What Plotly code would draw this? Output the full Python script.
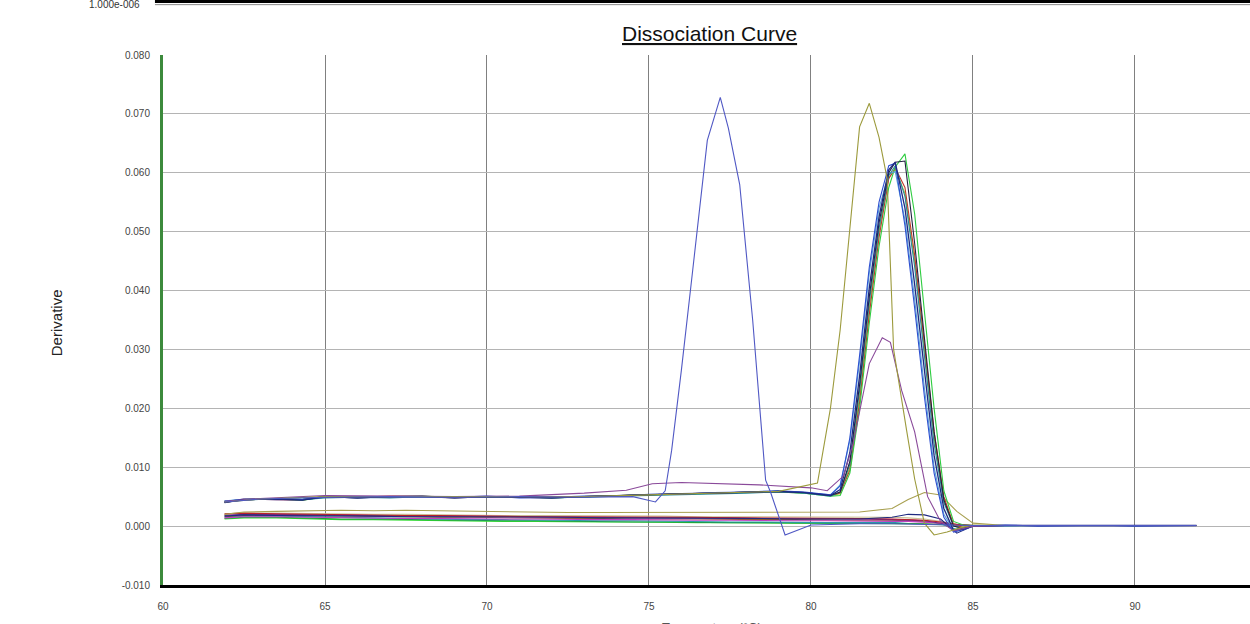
import plotly.graph_objects as go

# ---------------- data ----------------
# common temperature grid for the main product curves (upper baseline group)
T_UP = [61.9, 62.5, 63.5, 64.3, 65.0, 66.0, 67.0, 68.0, 69.0, 70.0, 71.0, 72.0, 73.0, 74.0,
        75.0, 76.0, 77.0, 78.0, 79.0, 79.8, 80.6, 80.9, 81.2, 81.5, 81.8, 82.1, 82.4, 82.6,
        82.9, 83.2, 83.5, 83.8, 84.1, 84.4, 84.7, 85.0, 86.0, 87.0, 88.0, 89.0, 90.0, 91.0, 91.9]

U_NAVY = [0.0040, 0.0045, 0.0046, 0.0044, 0.0050, 0.0048, 0.0050, 0.0051, 0.0048, 0.0050, 0.0049,
          0.0048, 0.0050, 0.0052, 0.0053, 0.0055, 0.0056, 0.0057, 0.0059, 0.0057, 0.0052,
          0.0062, 0.0125, 0.0255, 0.0405, 0.0525, 0.0605, 0.0618, 0.0540, 0.0410, 0.0260,
          0.0120, 0.0030, -0.0007, -0.0005,
          0.0000, 0.0001, 0.0001, 0.0001, 0.0001, 0.0001, 0.0001, 0.0001]
U_BLUE = [0.0042, 0.0046, 0.0045, 0.0045, 0.0049, 0.0049, 0.0049, 0.0050, 0.0049, 0.0051, 0.0048,
          0.0049, 0.0051, 0.0051, 0.0054, 0.0054, 0.0057, 0.0058, 0.0060, 0.0058, 0.0053,
          0.0068, 0.0150, 0.0290, 0.0440, 0.0550, 0.0612, 0.0616, 0.0510, 0.0370, 0.0220,
          0.0090, 0.0015, -0.0010, -0.0006,
          0.0000, 0.0002, 0.0000, 0.0001, 0.0001, 0.0000, 0.0001, 0.0001]
U_TEAL = [0.0041, 0.0044, 0.0047, 0.0045, 0.0048, 0.0049, 0.0048, 0.0050, 0.0050, 0.0049, 0.0050,
          0.0049, 0.0049, 0.0051, 0.0052, 0.0054, 0.0055, 0.0056, 0.0058, 0.0056, 0.0051,
          0.0058, 0.0105, 0.0230, 0.0380, 0.0505, 0.0595, 0.0612, 0.0560, 0.0440, 0.0290,
          0.0140, 0.0040, 0.0000, -0.0004,
          0.0001, 0.0001, 0.0001, 0.0000, 0.0001, 0.0001, 0.0001, 0.0001]
U_LBLUE = [0.0043, 0.0045, 0.0046, 0.0046, 0.0050, 0.0048, 0.0049, 0.0049, 0.0049, 0.0050, 0.0049,
           0.0048, 0.0050, 0.0052, 0.0053, 0.0055, 0.0056, 0.0058, 0.0059, 0.0057, 0.0053,
           0.0070, 0.0145, 0.0280, 0.0430, 0.0540, 0.0598, 0.0602, 0.0520, 0.0385, 0.0235,
           0.0100, 0.0020, -0.0006, -0.0004,
           0.0000, 0.0001, 0.0001, 0.0001, 0.0001, 0.0001, 0.0000, 0.0001]
U_RED = [0.0041, 0.0046, 0.0045, 0.0044, 0.0051, 0.0049, 0.0051, 0.0050, 0.0049, 0.0049, 0.0050,
         0.0049, 0.0050, 0.0051, 0.0053, 0.0055, 0.0056, 0.0057, 0.0059, 0.0057, 0.0052,
         0.0056, 0.0095, 0.0210, 0.0360, 0.0490, 0.0590, 0.0608, 0.0575, 0.0460, 0.0310,
         0.0160, 0.0050, 0.0003, -0.0003,
         0.0000, 0.0001, 0.0001, 0.0001, 0.0001, 0.0001, 0.0001, 0.0001]
U_BLACK = [0.0040, 0.0045, 0.0046, 0.0045, 0.0050, 0.0048, 0.0050, 0.0050, 0.0048, 0.0050, 0.0049,
           0.0048, 0.0050, 0.0052, 0.0053, 0.0055, 0.0056, 0.0057, 0.0059, 0.0057, 0.0052,
           0.0058, 0.0110, 0.0240, 0.0390, 0.0515, 0.0600, 0.0618, 0.0620, 0.0480, 0.0320,
           0.0160, 0.0045, 0.0000, -0.0004,
           0.0001, 0.0001, 0.0001, 0.0001, 0.0001, 0.0001, 0.0001, 0.0001]
U_GREEN = [0.0042, 0.0045, 0.0046, 0.0044, 0.0049, 0.0049, 0.0050, 0.0050, 0.0049, 0.0050, 0.0050,
           0.0048, 0.0050, 0.0051, 0.0053, 0.0054, 0.0056, 0.0058, 0.0059, 0.0056, 0.0051,
           0.0052, 0.0090, 0.0200, 0.0345, 0.0475, 0.0575, 0.0610, 0.0632, 0.0530, 0.0370,
           0.0200, 0.0060, 0.0008, 0.0002,
           0.0001, 0.0001, 0.0001, 0.0001, 0.0001, 0.0001, 0.0001, 0.0001]
U_YGREEN = [0.0041, 0.0045, 0.0046, 0.0045, 0.0050, 0.0049, 0.0050, 0.0051, 0.0049, 0.0050, 0.0049,
            0.0049, 0.0050, 0.0052, 0.0053, 0.0055, 0.0056, 0.0057, 0.0058, 0.0056, 0.0052,
            0.0055, 0.0100, 0.0220, 0.0370, 0.0500, 0.0592, 0.0605, 0.0565, 0.0450, 0.0300,
            0.0150, 0.0045, 0.0002, -0.0002,
            0.0001, 0.0001, 0.0001, 0.0001, 0.0001, 0.0001, 0.0001, 0.0001]

# primer-dimer-like early peak (blue, ~77.2 C)
T_B77 = [61.9, 63.0, 65.0, 67.0, 69.0, 71.0, 73.0, 74.5, 75.2, 75.5, 75.7, 76.0, 76.35, 76.8, 77.2,
         77.45, 77.8, 78.2, 78.45, 78.6, 78.75, 79.2, 80.0, 80.5, 81.5, 82.5, 83.5, 84.5, 85.0,
         86.0, 88.0, 90.0, 91.9]
V_B77 = [0.0041, 0.0046, 0.0049, 0.0050, 0.0049, 0.0050, 0.0049, 0.0050, 0.0041, 0.0060, 0.0129,
         0.0265, 0.0435, 0.0655, 0.0728, 0.0676, 0.0580, 0.0350, 0.0180, 0.0078, 0.0058, -0.0015,
         0.0002, 0.0003, 0.0004, 0.0004, 0.0003, 0.0001, 0.0001, 0.0001, 0.0001, 0.0001, 0.0001]

# olive curve peaking ~81.8 C
T_OLV = [61.9, 63.0, 65.0, 67.0, 69.0, 71.0, 73.0, 75.0, 77.0, 79.0, 80.2, 80.6, 80.9, 81.2, 81.5,
         81.8, 82.1, 82.35, 82.55, 82.95, 83.2, 83.5, 83.8, 84.2, 84.6, 85.0, 86.0, 88.0, 90.0, 91.9]
V_OLV = [0.0041, 0.0046, 0.0050, 0.0050, 0.0049, 0.0049, 0.0050, 0.0053, 0.0056, 0.0059, 0.0073,
         0.0200, 0.0333, 0.0500, 0.0678, 0.0718, 0.0660, 0.0590, 0.0300, 0.0163, 0.0080, 0.0005,
         -0.0015, -0.0010, -0.0003, 0.0002, 0.0001, 0.0001, 0.0001, 0.0001]

# purple curve with low peak ~82.2 C
T_PRP = [61.9, 63.0, 65.0, 67.0, 69.0, 71.0, 73.0, 74.3, 75.1, 76.0, 77.0, 78.4, 80.0, 80.5, 81.0,
         81.3, 81.8, 82.2, 82.45, 82.8, 83.2, 83.6, 84.0, 84.4, 85.0, 86.0, 88.0, 90.0, 91.9]
V_PRP = [0.0042, 0.0047, 0.0052, 0.0051, 0.0050, 0.0051, 0.0056, 0.0061, 0.0072, 0.0074, 0.0072,
         0.0070, 0.0065, 0.0060, 0.0085, 0.0140, 0.0276, 0.0320, 0.0312, 0.0230, 0.0160, 0.0050,
         0.0008, -0.0008, 0.0000, 0.0001, 0.0001, 0.0001, 0.0001]

# low baseline group (no-template style curves)
T_LOW = [61.9, 62.5, 63.5, 64.5, 65.5, 66.5, 67.5, 68.5, 69.5, 70.5, 71.5, 72.5, 73.5, 74.5, 75.5,
         76.5, 77.5, 78.5, 79.5, 80.5, 81.5, 82.5, 83.0, 83.5, 84.0, 84.5, 85.0, 86.0, 87.0, 88.0,
         89.0, 90.0, 91.0, 91.9]
L_RED = [0.0021, 0.0022, 0.0021, 0.0020, 0.0019, 0.0019, 0.0018, 0.0018, 0.0017, 0.0017, 0.0016,
         0.0016, 0.0016, 0.0015, 0.0015, 0.0015, 0.0014, 0.0014, 0.0014, 0.0013, 0.0013, 0.0012,
         0.0011, 0.0010, 0.0007, 0.0003, 0.0001,
         0.0001, 0.0001, 0.0001, 0.0001, 0.0001, 0.0001, 0.0001]
L_PURPLE = [0.0018, 0.0020, 0.0020, 0.0019, 0.0018, 0.0018, 0.0017, 0.0017, 0.0017, 0.0016, 0.0016,
            0.0015, 0.0015, 0.0015, 0.0014, 0.0014, 0.0014, 0.0013, 0.0013, 0.0012, 0.0012, 0.0011,
            0.0010, 0.0009, 0.0005, 0.0001, 0.0001,
            0.0001, 0.0001, 0.0001, 0.0002, 0.0001, 0.0001, 0.0001]
L_NAVY = [0.0017, 0.0019, 0.0018, 0.0018, 0.0017, 0.0017, 0.0016, 0.0016, 0.0016, 0.0015, 0.0015,
          0.0015, 0.0014, 0.0014, 0.0014, 0.0013, 0.0013, 0.0013, 0.0012, 0.0012, 0.0012, 0.0015,
          0.0020, 0.0019, 0.0012, -0.0012, 0.0000,
          0.0001, 0.0001, 0.0001, 0.0001, 0.0001, 0.0001, 0.0001]
L_GREEN = [0.0013, 0.0015, 0.0015, 0.0013, 0.0012, 0.0012, 0.0011, 0.0010, 0.0010, 0.0009, 0.0009,
           0.0008, 0.0008, 0.0007, 0.0007, 0.0006, 0.0006, 0.0006, 0.0005, 0.0005, 0.0005, 0.0005,
           0.0005, 0.0004, 0.0003, 0.0002, 0.0001,
           0.0001, 0.0001, 0.0001, 0.0001, 0.0001, 0.0001, 0.0001]
L_LIME = [0.0012, 0.0014, 0.0014, 0.0012, 0.0011, 0.0011, 0.0010, 0.0009, 0.0009, 0.0008, 0.0008,
          0.0007, 0.0007, 0.0007, 0.0006, 0.0006, 0.0006, 0.0005, 0.0005, 0.0005, 0.0004, 0.0004,
          0.0004, 0.0003, 0.0002, 0.0002, 0.0001,
          0.0001, 0.0001, 0.0001, 0.0001, 0.0001, 0.0001, 0.0001]
L_TEAL = [0.0015, 0.0017, 0.0017, 0.0016, 0.0014, 0.0013, 0.0012, 0.0012, 0.0011, 0.0011, 0.0010,
          0.0010, 0.0009, 0.0009, 0.0008, 0.0008, 0.0007, 0.0007, 0.0006, 0.0006, 0.0006, 0.0006,
          0.0008, 0.0009, 0.0004, -0.0006, 0.0000,
          0.0001, 0.0001, 0.0001, 0.0001, 0.0001, 0.0001, 0.0001]
L_OLIVE = [0.0020, 0.0024, 0.0025, 0.0026, 0.0027, 0.0026, 0.0027, 0.0026, 0.0025, 0.0024, 0.0024,
           0.0023, 0.0023, 0.0023, 0.0023, 0.0023, 0.0023, 0.0023, 0.0023, 0.0023, 0.0024, 0.0030,
           0.0045, 0.0057, 0.0053, 0.0025, 0.0005,
           0.0001, 0.0001, 0.0001, 0.0001, 0.0001, 0.0001, 0.0001]
L_PINK = [0.0019, 0.0021, 0.0020, 0.0020, 0.0019, 0.0018, 0.0018, 0.0017, 0.0016, 0.0016, 0.0016,
          0.0015, 0.0015, 0.0014, 0.0014, 0.0014, 0.0013, 0.0013, 0.0013, 0.0013, 0.0012, 0.0012,
          0.0011, 0.0009, 0.0006, 0.0002, 0.0001,
          0.0001, 0.0001, 0.0001, 0.0001, 0.0001, 0.0001, 0.0001]
L_BROWN = [0.0016, 0.0018, 0.0019, 0.0018, 0.0017, 0.0016, 0.0016, 0.0015, 0.0015, 0.0014, 0.0014,
           0.0013, 0.0013, 0.0012, 0.0012, 0.0012, 0.0011, 0.0011, 0.0011, 0.0010, 0.0010, 0.0010,
           0.0009, 0.0008, 0.0005, 0.0002, 0.0001,
           0.0001, 0.0001, 0.0001, 0.0001, 0.0001, 0.0001, 0.0001]
L_MAGENTA = [0.0014, 0.0016, 0.0016, 0.0015, 0.0014, 0.0014, 0.0013, 0.0013, 0.0012, 0.0012, 0.0012,
             0.0011, 0.0011, 0.0011, 0.0010, 0.0010, 0.0010, 0.0009, 0.0009, 0.0009, 0.0008, 0.0008,
             0.0008, 0.0007, 0.0005, 0.0001, 0.0001,
             0.0001, 0.0001, 0.0001, 0.0001, 0.0001, 0.0001, 0.0001]
L_BEIGE = [0.0020, 0.0022, 0.0022, 0.0021, 0.0021, 0.0020, 0.0020, 0.0019, 0.0019, 0.0018, 0.0018,
           0.0018, 0.0017, 0.0017, 0.0017, 0.0016, 0.0016, 0.0016, 0.0015, 0.0015, 0.0015, 0.0015,
           0.0014, 0.0012, 0.0008, 0.0003, 0.0001,
           0.0001, 0.0001, 0.0001, 0.0001, 0.0001, 0.0001, 0.0001]

X_TICKS = [60, 65, 70, 75, 80, 85, 90]
Y_TICKS = [-0.010, 0.000, 0.010, 0.020, 0.030, 0.040, 0.050, 0.060, 0.070, 0.080]
TITLE = "Dissociation Curve"
Y_TITLE = "Derivative"
X_TITLE = "Temperature (°C)"
TOP_LABEL = "1.000e-006"

# ---------------- figure ----------------
FONT = "Liberation Sans, Arial, sans-serif"
fig = go.Figure()

def add(x, y, color, width=1.1):
    fig.add_trace(go.Scatter(x=x, y=y, mode="lines", line=dict(color=color, width=width),
                             showlegend=False, hoverinfo="skip"))

# low group
add(T_LOW, L_BEIGE, "#cbbf94")
add(T_LOW, L_LIME, "#33dd33")
add(T_LOW, L_GREEN, "#1e9a3c")
add(T_LOW, L_TEAL, "#2a9aa8")
add(T_LOW, L_BROWN, "#8b5a2b")
add(T_LOW, L_MAGENTA, "#c040c0")
add(T_LOW, L_PINK, "#e08cc0")
add(T_LOW, L_PURPLE, "#6a2a8a")
add(T_LOW, L_RED, "#b8202a")
add(T_LOW, L_NAVY, "#1f2a80")
add(T_LOW, L_OLIVE, "#a8a050")

# upper group
add(T_UP, U_YGREEN, "#9acd32")
add(T_UP, U_RED, "#c0392b")
add(T_UP, U_GREEN, "#2ecc40")
add(T_UP, U_LBLUE, "#5ba3d9")
add(T_UP, U_TEAL, "#2a8a9a")
add(T_UP, U_BLACK, "#202040")
add(T_UP, U_BLUE, "#2d4fd0")
add(T_UP, U_NAVY, "#1f2a80", 1.3)

# special curves
add(T_PRP, V_PRP, "#8a4a9a")
add(T_OLV, V_OLV, "#9c9a3c")
add(T_B77, V_B77, "#5058c4")

fig.update_layout(
    width=1250, height=624,
    margin=dict(l=163, r=0, t=55, b=39),
    paper_bgcolor="white", plot_bgcolor="white",
    font=dict(family=FONT, size=10, color="#444444"),
    xaxis=dict(range=[60, 93.55], tickvals=X_TICKS, ticktext=[str(v) for v in X_TICKS],
               showgrid=True, gridcolor="#808080", gridwidth=1, zeroline=False,
               showline=True, linecolor="#000000", linewidth=3, ticks="",
               ticklabelstandoff=10, tickfont=dict(size=10, color="#444444")),
    yaxis=dict(range=[-0.010, 0.080], tickvals=Y_TICKS,
               ticktext=[f"{v:.3f}" for v in Y_TICKS],
               showgrid=True, gridcolor="#b4b4b4", gridwidth=1, zeroline=False,
               showline=True, linecolor="#3c8a3c", linewidth=3, ticks="",
               ticklabelstandoff=8, tickfont=dict(size=10, color="#444444")),
    annotations=[
        dict(text=f"<u>{TITLE}</u>", xref="paper", yref="paper", x=0.503, y=1.0415,
             xanchor="center", yanchor="middle", showarrow=False,
             font=dict(family=FONT, size=21, color="#111111")),
        dict(text=Y_TITLE, xref="paper", yref="paper", x=-0.0984, y=0.494,
             xanchor="center", yanchor="middle", textangle=-90, showarrow=False,
             font=dict(family=FONT, size=15, color="#222222")),
        dict(text=X_TITLE, xref="paper", yref="paper", x=0.505, y=-0.062,
             xanchor="center", yanchor="top", showarrow=False,
             font=dict(family=FONT, size=13, color="#555555")),
        dict(text=TOP_LABEL, xref="paper", yref="paper", x=-0.0195, y=1.096,
             xanchor="right", yanchor="middle", showarrow=False,
             font=dict(family=FONT, size=10, color="#333333")),
    ],
    shapes=[
        dict(type="line", xref="paper", yref="paper", x0=-0.0074, x1=1.0, y0=1.101, y1=1.101,
             line=dict(color="#000000", width=3)),
        dict(type="line", xref="paper", yref="paper", x0=-0.0074, x1=1.0, y0=1.095, y1=1.095,
             line=dict(color="#888888", width=1)),
    ],
)

fig.write_html("out.html", config={"displayModeBar": False},
               post_script="document.body.style.margin='0px';document.body.style.overflow='hidden';")
